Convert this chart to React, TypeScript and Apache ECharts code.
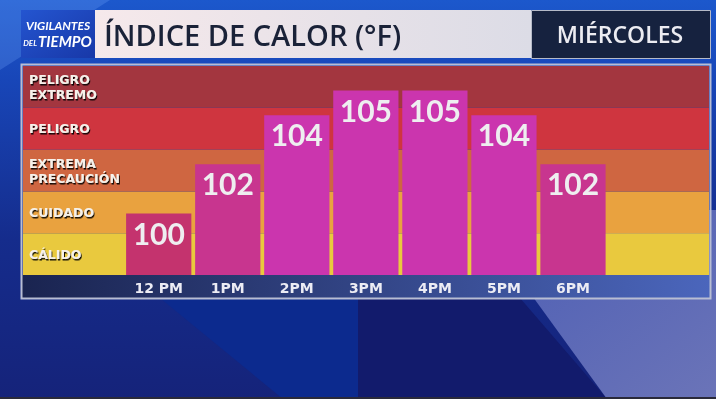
import React, { useEffect, useRef } from "react";
import * as echarts from "echarts";

const hours = ["12 PM", "1PM", "2PM", "3PM", "4PM", "5PM", "6PM"];
const heatIndex = [100, 102, 104, 105, 105, 104, 102];
const barColors = ["#C4336E", "#C8358F", "#CB35AE", "#CB35AE", "#CB35AE", "#CB35AE", "#C8358F"];
const bandNames = ["CÁLIDO", "CUIDADO", "EXTREMA\nPRECAUCIÓN", "PELIGRO", "PELIGRO\nEXTREMO"];
const bandColors = ["#E9C93E", "#E9A23F", "#CF6641", "#CF353F", "#A3363F"];
const bandFill = [1, 1, 1, 1, 1];
const titleText = "ÍNDICE DE CALOR (°F)";
const dayText = "MIÉRCOLES";

const FONT = "Lato, 'Open Sans', sans-serif";
const WIDE = "'Open Sans', Lato, sans-serif";
const DJ = "'DejaVu Sans', 'Open Sans', sans-serif";

export default function App() {
  const ref = useRef<HTMLDivElement>(null);
  useEffect(() => {
    const chart = echarts.init(ref.current!, null, { renderer: "svg" });
    const option: any = {
      animation: false,
      graphic: [
        // background
        {
          type: "rect", z: -10, silent: true,
          shape: { x: 0, y: 0, width: 716, height: 399 },
          style: {
            fill: new echarts.graphic.LinearGradient(0, 0, 0, 1, [
              { offset: 0, color: "#1C58CC" },
              { offset: 0.2, color: "#1846B8" },
              { offset: 0.6, color: "#152C8C" },
              { offset: 1, color: "#15237A" },
            ]),
          },
        },
        {
          type: "polygon", z: -9, silent: true,
          shape: { points: [[0, 0], [110, 0], [0, 70]] },
          style: { fill: "rgba(120,170,255,0.25)" },
        },
        {
          type: "polygon", z: -9, silent: true,
          shape: { points: [[160, 298], [358, 298], [358, 399], [283, 399]] },
          style: { fill: "#0C2A8E" },
        },
        {
          type: "polygon", z: -9, silent: true,
          shape: { points: [[358, 298], [520, 298], [607, 399], [358, 399]] },
          style: { fill: "#121B6C" },
        },
        {
          type: "polygon", z: -9, silent: true,
          shape: { points: [[470, 210], [716, 210], [716, 399], [607, 399]] },
          style: {
            fill: new echarts.graphic.LinearGradient(0, 0, 1, 1, [
              { offset: 0, color: "#4A5CB4" },
              { offset: 1, color: "#6B74B8" },
            ]),
          },
        },
        {
          type: "rect", z: -9, silent: true,
          shape: { x: 0, y: 397, width: 716, height: 2 },
          style: { fill: "#2A2A3A" },
        },
        // logo box
        {
          type: "rect", z: 1, silent: true,
          shape: { x: 21, y: 10, width: 74, height: 48 },
          style: {
            fill: new echarts.graphic.LinearGradient(0, 0, 1, 1, [
              { offset: 0, color: "#2455D0" },
              { offset: 1, color: "#1838A8" },
            ]),
          },
        },
        {
          type: "text", z: 2, silent: true, x: 58, y: 25,
          style: {
            text: "VIGILANTES", fill: "#FFFFFF", font: `italic bold 12px ${FONT}`,
            align: "center", verticalAlign: "middle",
          },
        },
        {
          type: "text", z: 2, silent: true, x: 37, y: 43,
          style: {
            text: "DEL", fill: "#FFFFFF", font: `italic bold 8px ${FONT}`,
            align: "right", verticalAlign: "middle",
          },
        },
        {
          type: "text", z: 2, silent: true, x: 38, y: 41,
          style: {
            text: "TIEMPO", fill: "#FFFFFF", font: `italic bold 15px ${FONT}`,
            align: "left", verticalAlign: "middle",
          },
        },
        // title box
        {
          type: "rect", z: 1, silent: true,
          shape: { x: 95, y: 10, width: 436, height: 48 },
          style: {
            fill: new echarts.graphic.LinearGradient(0, 0, 1, 0, [
              { offset: 0, color: "#F6E9EB" },
              { offset: 1, color: "#DCDCE6" },
            ]),
          },
        },
        {
          type: "text", z: 2, silent: true, x: 104, y: 34,
          style: {
            text: titleText, fill: "#1A2238", font: `600 29px ${WIDE}`,
            align: "left", verticalAlign: "middle",
          },
        },
        // day box
        {
          type: "rect", z: 1, silent: true,
          shape: { x: 531.5, y: 10.5, width: 179, height: 48 },
          style: { fill: "#16223F", stroke: "#B5BAC8", lineWidth: 1 },
        },
        {
          type: "text", z: 2, silent: true, x: 620, y: 34,
          style: {
            text: dayText, fill: "#ECECF2", font: `600 23px ${WIDE}`,
            align: "center", verticalAlign: "middle",
          },
        },
        // axis strip
        {
          type: "rect", z: 0, silent: true,
          shape: { x: 22, y: 275, width: 688, height: 23 },
          style: {
            fill: new echarts.graphic.LinearGradient(0, 0, 1, 0, [
              { offset: 0, color: "#1A2450" },
              { offset: 1, color: "#4B66BC" },
            ]),
          },
        },
        // frame border
        {
          type: "rect", z: 50, silent: true,
          shape: { x: 21.5, y: 64.5, width: 689, height: 234 },
          style: { fill: "none", stroke: "#B8BDD3", lineWidth: 2 },
        },
      ],
      grid: [
        { left: 23, top: 66, width: 686, height: 209 },
        { left: 124.2, top: 66, width: 483.3, height: 209 },
      ],
      xAxis: [
        { type: "value", gridIndex: 0, min: 0, max: 1, show: false },
        {
          type: "category", gridIndex: 1, data: hours,
          axisLine: { show: false }, axisTick: { show: false },
          axisLabel: { color: "#ECECF4", fontFamily: DJ, fontWeight: "bold", fontSize: 14, margin: 6 },
        },
      ],
      yAxis: [
        { type: "category", gridIndex: 0, data: bandNames, show: false },
        { type: "value", gridIndex: 1, min: 97.5, max: 106, show: false },
      ],
      series: [
        {
          type: "bar", xAxisIndex: 0, yAxisIndex: 0, barWidth: "100%", z: 1,
          data: bandFill.map((v, i) => ({ value: v, itemStyle: { color: bandColors[i] } })),
          silent: true,
          label: {
            show: true, position: "insideLeft", distance: 6, formatter: "{b}",
            color: "#F6F1EA", fontFamily: DJ, fontWeight: "bold", fontSize: 12.5, lineHeight: 15,
            textShadowColor: "rgba(0,0,0,0.9)", textShadowOffsetX: 1, textShadowOffsetY: 1.5, textShadowBlur: 1,
          },
        },
        {
          type: "bar", xAxisIndex: 1, yAxisIndex: 1, barCategoryGap: "5.5%", z: 3,
          data: heatIndex.map((v, i) => ({ value: v, itemStyle: { color: barColors[i] } })),
          label: {
            show: true, position: "insideTop", distance: 4,
            color: "#EEEEF0", fontFamily: FONT, fontWeight: "bold", fontSize: 30,
          },
        },
      ],
    };
    chart.setOption(option);
    return () => chart.dispose();
  }, []);
  return <div ref={ref} style={{ position: "fixed", left: 0, top: 0, width: 716, height: 399 }} />;
}
